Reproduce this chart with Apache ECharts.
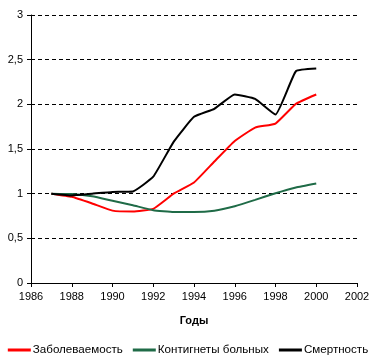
<!DOCTYPE html>
<html><head><meta charset="utf-8">
<script src="https://cdn.jsdelivr.net/npm/echarts@6/dist/echarts.min.js"></script>
<style>html,body{margin:0;padding:0;background:#fff}#c{width:376px;height:364px}</style>
</head><body><div id="c"></div>
<script>
var years = [1987,1988,1989,1990,1991,1992,1993,1994,1995,1996,1997,1998,1999,2000];
var morbidity = [1.0,0.965,0.89,0.81,0.80,0.83,1.0,1.125,1.36,1.59,1.74,1.785,2.005,2.11];
var contingents = [1.0,0.995,0.97,0.92,0.87,0.815,0.795,0.795,0.81,0.86,0.93,1.005,1.07,1.115];
var mortality = [1.0,0.98,1.0,1.02,1.025,1.19,1.58,1.86,1.95,2.11,2.06,1.885,2.37,2.40];
var seriesNames = ['Заболеваемость','Контигнеты больных','Смертность'];
var colors = ['#ff0000','#1f6b47','#000000'];
var xTitle = 'Годы';

function pairs(v){ return years.map(function(y,i){ return [y, v[i]]; }); }
var font = 'Liberation Sans, Arial, sans-serif';
var chart = echarts.init(document.getElementById('c'));
var allData = [morbidity, contingents, mortality];
chart.setOption({
  animation:false,
  grid:{left:31,right:19,top:15,bottom:81,containLabel:false},
  legend:{bottom:3,left:'center',itemWidth:23,itemHeight:3,itemGap:10,icon:'rect',
    textStyle:{fontFamily:font,fontSize:11.6,color:'#000',padding:[0,0,0,-3]},
    data:seriesNames},
  xAxis:{type:'value',min:1986,max:2002,interval:2,
    name:xTitle,nameLocation:'middle',nameGap:32,
    nameTextStyle:{fontFamily:font,fontSize:11,fontWeight:'bold',color:'#000'},
    axisLine:{show:true,lineStyle:{color:'#000',width:1}},
    axisTick:{show:true,inside:false,length:4,lineStyle:{color:'#000'}},
    axisLabel:{fontFamily:font,fontSize:11,color:'#000',margin:8,formatter:function(v){return String(v);}},
    splitLine:{show:false}},
  yAxis:{type:'value',min:0,max:3,interval:0.5,
    axisLine:{show:true,lineStyle:{color:'#000',width:1}},
    axisTick:{show:true,inside:false,length:4,lineStyle:{color:'#000'}},
    axisLabel:{fontFamily:font,fontSize:11,color:'#000',margin:8,
      formatter:function(v){return String(v).replace('.',',');}},
    splitLine:{show:true,lineStyle:{color:'#000',type:[4,3],width:1}}},
  series:seriesNames.map(function(n,i){
    return {name:n,type:'line',data:pairs(allData[i]),symbol:'none',smooth:0.12,
      lineStyle:{color:colors[i],width:2},itemStyle:{color:colors[i]}};
  })
});
</script></body></html>
